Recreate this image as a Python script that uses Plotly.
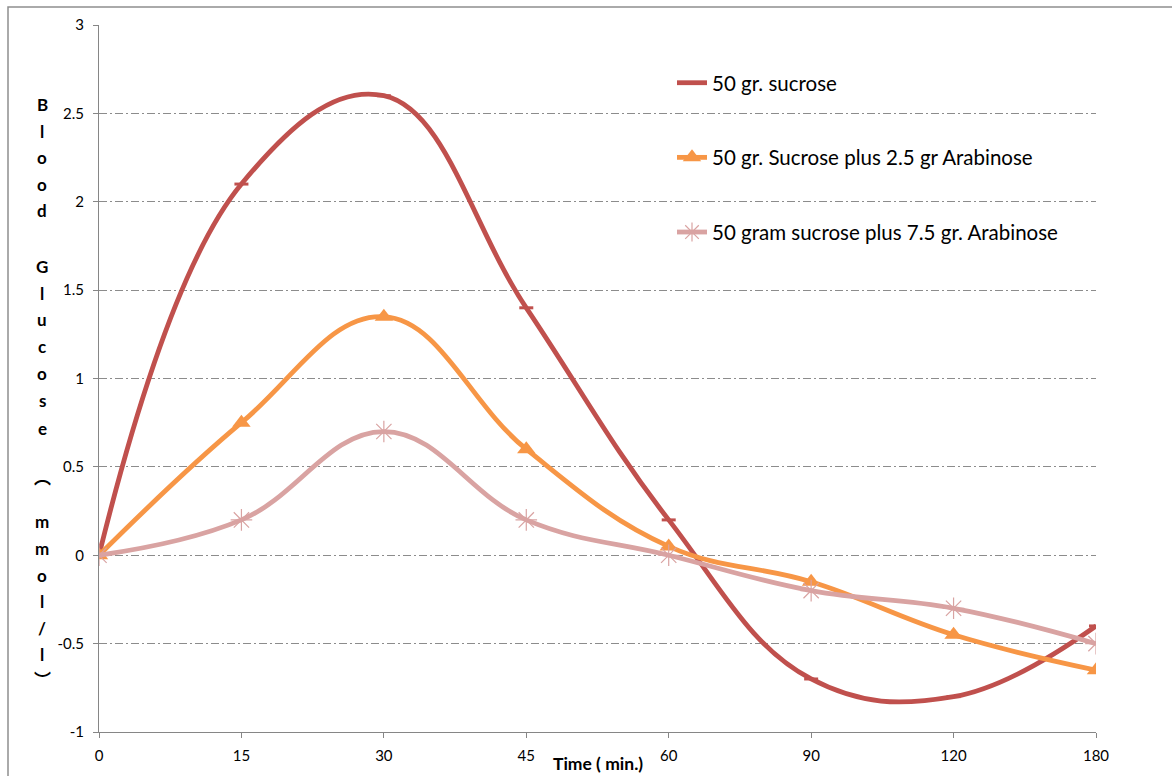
import plotly.graph_objects as go

# ---- data ----
time_labels = ["0", "15", "30", "45", "60", "90", "120", "180"]
sucrose_50 = [0, 2.1, 2.6, 1.4, 0.2, -0.7, -0.8, -0.4]
sucrose_arab_2_5 = [0, 0.75, 1.35, 0.6, 0.05, -0.15, -0.45, -0.65]
sucrose_arab_7_5 = [0, 0.2, 0.7, 0.2, 0, -0.2, -0.3, -0.5]
series_names = [
    "50 gr. sucrose",
    "50 gr. Sucrose plus 2.5 gr Arabinose",
    "50 gram sucrose plus 7.5 gr. Arabinose",
]
y_title_chars = ["B", "l", "o", "o", "d", "G", "l", "u", "c", "o", "s", "e",
                 "\ufe35", "m", "m", "o", "l", "/", "l", "\ufe36"]
y_ticks = [-1, -0.5, 0, 0.5, 1, 1.5, 2, 2.5, 3]

# ---- layout geometry (pixels) ----
W, H = 1172, 776
L, R, T, B = 99, 1096, 25, 734
FONT = "Lato, 'Open Sans', sans-serif"


def px_x(px):
    return (px - L) / (R - L)


def px_y(py):
    return (B - py) / (B - T)


xi = list(range(len(time_labels)))
SMOOTH = 1.15
LW = 4.8

fig = go.Figure()
fig.add_trace(go.Scatter(
    x=xi, y=sucrose_50, name=series_names[0], mode="lines+markers",
    line=dict(color="#C0504D", width=LW, shape="spline", smoothing=SMOOTH),
    marker=dict(symbol="line-ew", size=10, color="#C0504D",
                line=dict(color="#C0504D", width=3)),
    legendgroup="a",
))
fig.add_trace(go.Scatter(
    x=xi, y=sucrose_arab_2_5, name=series_names[1], mode="lines+markers",
    line=dict(color="#F79646", width=LW, shape="spline", smoothing=SMOOTH),
    marker=dict(symbol="triangle-up", size=16, color="#F79646"),
    legendgroup="b",
))
fig.add_trace(go.Scatter(
    x=xi, y=sucrose_arab_7_5, name=series_names[2], mode="lines+markers",
    line=dict(color="#D9A3A2", width=LW, shape="spline", smoothing=SMOOTH),
    marker=dict(symbol="asterisk-open", size=18, color="#D9A3A2",
                line=dict(color="#D9A3A2", width=1.2)),
    legendgroup="c",
))

annotations = []
# stacked y-axis title letters
y_positions = [105, 132, 158, 185, 211, 267, 294, 320, 347, 374, 402, 430,
               478, 523, 550, 577, 603, 630, 656, 680]
for ch, py in zip(y_title_chars, y_positions):
    fam = "'Noto Sans CJK SC', sans-serif" if ch in ("\ufe35", "\ufe36") else FONT
    annotations.append(dict(
        text=f"<b>{ch}</b>", x=px_x(42), y=px_y(py), xref="paper", yref="paper",
        xanchor="center", yanchor="middle", showarrow=False,
        font=dict(family=fam, size=17, color="#000000"),
    ))
annotations.append(dict(
    text="<b>Time ( min.)</b>", x=px_x(598), y=px_y(766), xref="paper", yref="paper",
    xanchor="center", yanchor="middle", showarrow=False,
    font=dict(family=FONT, size=17.5, color="#000000"),
))

fig.update_layout(
    width=W, height=H,
    margin=dict(l=L, r=W - R, t=T, b=H - B, pad=0),
    paper_bgcolor="white", plot_bgcolor="white",
    font=dict(family=FONT, size=15, color="#000000"),
    showlegend=True,
    legend=dict(
        x=px_x(672), y=px_y(63), xanchor="left", yanchor="top",
        font=dict(family=FONT, size=20.5, color="#000000"),
        itemwidth=30, traceorder="grouped", tracegroupgap=45,
        bgcolor="rgba(0,0,0,0)",
    ),
    annotations=annotations,
    shapes=[dict(type="rect", xref="paper", yref="paper",
                 x0=px_x(8), x1=px_x(1190), y0=px_y(7), y1=px_y(800),
                 line=dict(color="#8E8E8E", width=1.5), layer="below")],
)
fig.update_xaxes(
    range=[0, len(time_labels) - 1], tickmode="array", tickvals=xi, ticktext=time_labels,
    showgrid=False, zeroline=False, showline=True, linecolor="#868686", linewidth=1,
    ticks="outside", ticklen=5, tickcolor="#868686", ticklabelstandoff=5,
    tickfont=dict(family=FONT, size=15, color="#000000"),
)
fig.update_yaxes(
    range=[-1, 3], tickmode="array", tickvals=y_ticks,
    ticktext=[f"{v:g}" for v in y_ticks],
    showgrid=True, gridcolor="#8C8C8C", gridwidth=1, griddash="8px,3px,2px,3px",
    zeroline=False, showline=True, linecolor="#868686", linewidth=1,
    ticks="outside", ticklen=5, tickcolor="#868686", ticklabelstandoff=6,
    tickfont=dict(family=FONT, size=15, color="#000000"),
)

fig.write_html("out.html")
